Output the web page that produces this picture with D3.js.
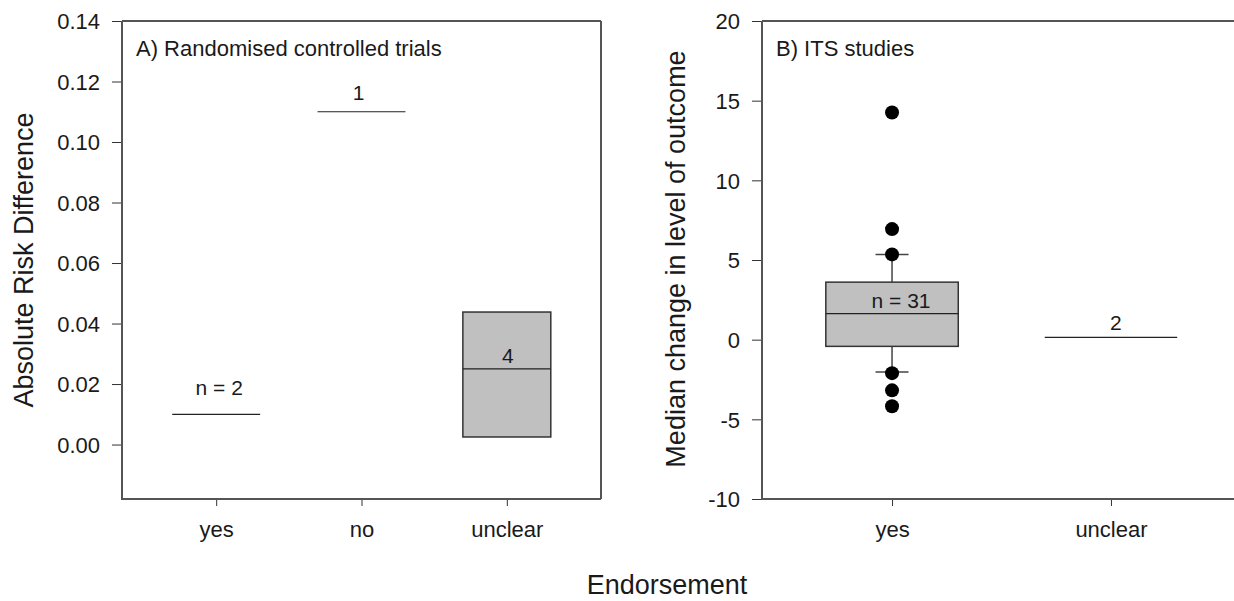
<!DOCTYPE html>
<html>
<head>
<meta charset="utf-8">
<script src="https://cdn.jsdelivr.net/npm/d3@7"></script>
<style>
  body { margin: 0; background: #fff; }
  svg { display: block; }
  text { font-family: "Liberation Sans", Arial, sans-serif; fill: #1a1a1a; }
</style>
</head>
<body>
<svg id="chart" width="1234" height="601"></svg>
<script>
// ---- Panel A: randomised controlled trials (absolute risk difference) ----
const rctCategories = ["yes", "no", "unclear"];
const rctCounts     = ["n = 2", "1", "4"];
const rctQ1         = [0.010, 0.110, 0.0025];
const rctMedian     = [0.010, 0.110, 0.025];
const rctQ3         = [0.010, 0.110, 0.0438];
const rctTicks      = [0.00, 0.02, 0.04, 0.06, 0.08, 0.10, 0.12, 0.14];

// ---- Panel B: interrupted time series studies (median change in level) ----
const itsCategories   = ["yes", "unclear"];
const itsCounts       = ["n = 31", "2"];
const itsQ1           = [-0.42, 0.15];
const itsMedian       = [1.63, 0.15];
const itsQ3           = [3.61, 0.15];
const itsWhiskerLow   = [-2.03, null];
const itsWhiskerHigh  = [5.35, null];
const itsOutliers     = [[14.26, 6.94, 5.35, -2.10, -3.18, -4.18], []];
const itsTicks        = [-10, -5, 0, 5, 10, 15, 20];

const svg = d3.select("#chart");
const FRAME = "#555";
const TICK = "#333";

function drawPanel(cfg) {
  const g = svg.append("g");
  const [x0, x1] = cfg.xRange;
  const [yb, yt] = cfg.yRange;

  const x = d3.scalePoint().domain(cfg.categories).range([x0, x1]).padding(cfg.padding);
  const y = d3.scaleLinear().domain(cfg.yDomain).range([yb, yt]);
  const boxW = x.step() * 0.605;

  // y axis
  const yAxis = g.append("g")
    .attr("transform", `translate(${x0},0)`)
    .call(d3.axisLeft(y).tickValues(cfg.ticks).tickSize(10).tickFormat(cfg.format));
  yAxis.select(".domain").remove();
  yAxis.selectAll(".tick line").attr("stroke", TICK).attr("stroke-width", 1);
  yAxis.selectAll(".tick text")
    .attr("x", -22).attr("dy", "0.35em")
    .style("font-size", "22px").style("font-family", "'Liberation Sans', Arial, sans-serif")
    .attr("fill", "#1a1a1a");

  // x axis
  const xAxis = g.append("g")
    .attr("transform", `translate(0,${yb})`)
    .call(d3.axisBottom(x).tickSize(7));
  xAxis.select(".domain").remove();
  xAxis.selectAll(".tick line").attr("stroke", TICK).attr("stroke-width", 1);
  xAxis.selectAll(".tick text")
    .attr("y", 38).attr("dy", 0)
    .style("font-size", "22px").style("font-family", "'Liberation Sans', Arial, sans-serif")
    .attr("fill", "#1a1a1a");

  // frame
  const frame = g.append("g").attr("stroke", FRAME).attr("stroke-width", 2).attr("fill", "none");
  frame.append("line").attr("x1", x0).attr("x2", x0).attr("y1", yt).attr("y2", yb);
  frame.append("line").attr("x1", x0 - 1).attr("x2", x1).attr("y1", yb).attr("y2", yb);
  frame.append("line").attr("x1", x0).attr("x2", x1).attr("y1", yt).attr("y2", yt);
  frame.append("line").attr("x1", x1).attr("x2", x1).attr("y1", yt).attr("y2", yb);

  // boxes
  cfg.categories.forEach((c, i) => {
    const cx = x(c);
    const lo = cfg.wLow ? cfg.wLow[i] : null;
    const hi = cfg.wHigh ? cfg.wHigh[i] : null;
    const capW = 33;

    if (hi != null) {
      g.append("line").attr("x1", cx).attr("x2", cx)
        .attr("y1", y(cfg.q3[i])).attr("y2", y(hi))
        .attr("stroke", "#444").attr("stroke-width", 1.5);
      g.append("line").attr("x1", cx - capW / 2).attr("x2", cx + capW / 2)
        .attr("y1", y(hi)).attr("y2", y(hi))
        .attr("stroke", "#444").attr("stroke-width", 1.5);
    }
    if (lo != null) {
      g.append("line").attr("x1", cx).attr("x2", cx)
        .attr("y1", y(cfg.q1[i])).attr("y2", y(lo))
        .attr("stroke", "#444").attr("stroke-width", 1.5);
      g.append("line").attr("x1", cx - capW / 2).attr("x2", cx + capW / 2)
        .attr("y1", y(lo)).attr("y2", y(lo))
        .attr("stroke", "#444").attr("stroke-width", 1.5);
    }

    if (cfg.q3[i] > cfg.q1[i]) {
      g.append("rect")
        .attr("x", cx - boxW / 2).attr("width", boxW)
        .attr("y", y(cfg.q3[i])).attr("height", y(cfg.q1[i]) - y(cfg.q3[i]))
        .attr("fill", "#c0c0c0").attr("stroke", "#333").attr("stroke-width", 1.5);
    }
    g.append("line")
      .attr("x1", cx - boxW / 2).attr("x2", cx + boxW / 2)
      .attr("y1", y(cfg.median[i])).attr("y2", y(cfg.median[i]))
      .attr("stroke", "#222").attr("stroke-width", 1.2);

    if (cfg.outliers) {
      g.selectAll(null).data(cfg.outliers[i]).join("circle")
        .attr("cx", cx).attr("cy", d => y(d)).attr("r", 7)
        .attr("fill", "#000");
    }

    const off = cfg.labelOffsets[i];
    g.append("text")
      .attr("x", cx + off[0]).attr("y", y(cfg.median[i]) - off[1])
      .attr("text-anchor", "middle")
      .style("font-size", "21px")
      .text(cfg.counts[i]);
  });

  // panel title
  g.append("text")
    .attr("x", x0 + 14).attr("y", 56)
    .style("font-size", "22px")
    .text(cfg.title);

  // y axis title
  g.append("text")
    .attr("transform", `translate(${cfg.yTitleX},${cfg.yTitleY}) rotate(-90)`)
    .attr("text-anchor", "middle")
    .style("font-size", "27px")
    .text(cfg.yTitle);
}

drawPanel({
  categories: rctCategories, counts: rctCounts,
  q1: rctQ1, median: rctMedian, q3: rctQ3,
  ticks: rctTicks, format: d3.format(".2f"),
  xRange: [122, 601], yRange: [499, 21], yDomain: [-0.018, 0.14], padding: 0.648,
  labelOffsets: [[3, 19], [-3, 12], [1, 6]],
  title: "A) Randomised controlled trials",
  yTitle: "Absolute Risk Difference", yTitleX: 33, yTitleY: 260
});

drawPanel({
  categories: itsCategories, counts: itsCounts,
  q1: itsQ1, median: itsMedian, q3: itsQ3,
  wLow: itsWhiskerLow, wHigh: itsWhiskerHigh, outliers: itsOutliers,
  ticks: itsTicks, format: d => String(d),
  xRange: [762, 1241], yRange: [499, 21], yDomain: [-10, 20], padding: 0.594,
  labelOffsets: [[9, 6], [5, 7]],
  title: "B) ITS studies",
  yTitle: "Median change in level of outcome", yTitleX: 685, yTitleY: 259
});

// shared x axis title
svg.append("text")
  .attr("x", 667).attr("y", 594)
  .attr("text-anchor", "middle")
  .style("font-size", "27px")
  .text("Endorsement");
</script>
</body>
</html>
